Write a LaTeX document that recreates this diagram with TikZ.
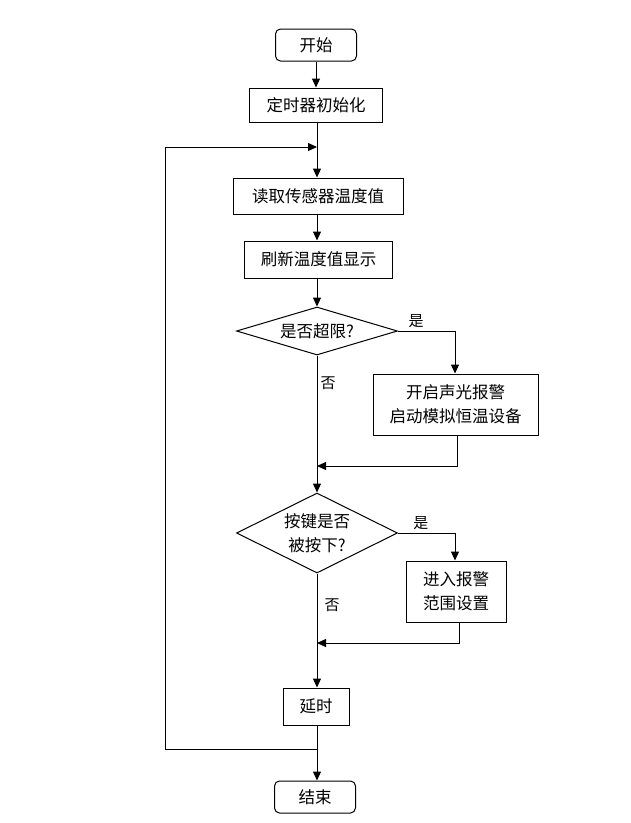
\documentclass[tikz,border=0pt]{standalone}
\usepackage{fontspec}
\setmainfont{Noto Sans CJK SC}
\usetikzlibrary{arrows.meta,shapes.geometric}
\begin{document}
\begin{tikzpicture}[x=1pt,y=-1pt,
  line width=1pt,
  arr/.style={-{Triangle[length=9pt,width=8pt]}},
  proc/.style={draw,rectangle,inner sep=0pt,align=center,font=\fontsize{16.5}{24}\selectfont},
  term/.style={proc,rounded corners=5pt},
  dec/.style={draw,diamond,inner sep=0pt,align=center,font=\fontsize{16.5}{24}\selectfont},
  lbl/.style={font=\fontsize{15}{16}\selectfont,inner sep=0pt}]
\useasboundingbox (0,0) rectangle (631,823);
\node[term,minimum width=81pt,minimum height=32pt] (start) at (316,45) {开始};
\node[proc,minimum width=133pt,minimum height=34pt] (init) at (316,105) {定时器初始化};
\coordinate (loopin) at (317,147);
\node[proc,minimum width=170pt,minimum height=36pt] (read) at (318,196) {读取传感器温度值};
\node[proc,minimum width=148pt,minimum height=37pt] (refresh) at (318.5,259.5) {刷新温度值显示};
\node[dec,aspect=3.35,minimum width=161pt,minimum height=48pt] (d1) at (317,331) {是否超限?};
\node[proc,minimum width=165pt,minimum height=61pt] (alarm) at (455.5,404.5) {开启声光报警\\启动模拟恒温设备};
\coordinate (m1) at (317,466);
\node[dec,aspect=2,minimum width=161pt,minimum height=80pt] (d2) at (317,533) {按键是否\\被按下?};
\node[proc,minimum width=100pt,minimum height=61pt] (set) at (456,591.5) {进入报警\\范围设置};
\coordinate (m2) at (317,643);
\node[proc,minimum width=66pt,minimum height=37pt] (delay) at (316,706.5) {延时};
\coordinate (loopout) at (317,749);
\node[term,minimum width=81pt,minimum height=32pt] (end) at (315,797) {结束};

\draw[arr] (start) -- (init);
\draw (init.south -| loopin) -- (loopin);
\draw[arr] (loopin) -- (read.north -| loopin);
\draw[arr] (read.south -| loopin) -- (refresh.north -| loopin);
\draw[arr] (refresh.south -| d1) -- (d1.north);
\draw[arr] (d1.east) -| (alarm.north -| 455,0) node[lbl,pos=0.16,above=3pt] {是};
\draw (d1.south) -- (m1) node[lbl,pos=0.25,right=3pt] {否};
\draw[arr] (alarm.south -| 457,0) |- (m1);
\draw[arr] (m1) -- (d2.north);
\draw[arr] (d2.east) -| (set.north -| 455,0) node[lbl,pos=0.2,above=3pt] {是};
\draw (d2.south) -- (m2) node[lbl,pos=0.45,right=7pt] {否};
\draw[arr] (set.south -| 459,0) |- (m2);
\draw[arr] (m2) -- (delay.north -| m2);
\draw (delay.south -| loopout) -- (loopout);
\draw[arr] (loopout) -- (end.north -| loopout);
\draw[arr] (loopout) -- (165,749) -- (165,147) -- (loopin);
\end{tikzpicture}
\end{document}
